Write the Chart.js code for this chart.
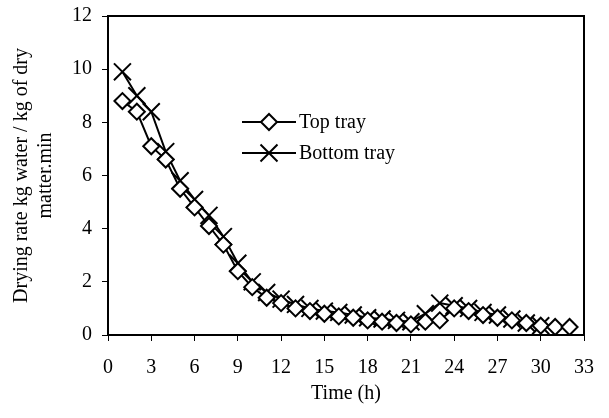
<!DOCTYPE html>
<html>
<head>
<meta charset="utf-8">
<script src="https://cdn.jsdelivr.net/npm/chart.js@4"></script>
<style>
  html, body { margin: 0; padding: 0; background: white; }
  #wrap { width: 609px; height: 418px; }
</style>
</head>
<body>
<div id="wrap"><canvas id="chart" width="609" height="418"></canvas></div>
<script>
const hours = [1, 2, 3, 4, 5, 6, 7, 8, 9, 10, 11, 12, 13, 14, 15, 16, 17, 18, 19, 20, 21, 22, 23, 24, 25, 26, 27, 28, 29, 30, 31, 32];
const topTray = [8.8, 8.4, 7.1, 6.6, 5.5, 4.8, 4.1, 3.4, 2.4, 1.8, 1.4, 1.2, 1.0, 0.9, 0.8, 0.7, 0.65, 0.55, 0.5, 0.45, 0.4, 0.5, 0.55, 1.0, 0.9, 0.75, 0.65, 0.55, 0.45, 0.35, 0.3, 0.3];
const bottomTray = [9.9, 9.0, 8.4, 6.9, 5.8, 5.1, 4.5, 3.7, 2.7, 2.0, 1.6, 1.35, 1.15, 1.0, 0.9, 0.85, 0.75, 0.65, 0.6, 0.55, 0.5, 0.8, 1.2, 1.1, 1.0, 0.85, 0.75, 0.6, 0.45, 0.35];
const seriesNames = ["Top tray", "Bottom tray"];
const xTitle = "Time (h)";
const yTitle = ["Drying rate kg water / kg of dry", "matter.min"];

const serif = "'Liberation Serif', 'Times New Roman', serif";

const toPoints = (vals) => vals.map((v, i) => ({ x: hours[i], y: v }));

// box around plot + legend inside the plot area
const boxAndLegend = {
  id: "boxAndLegend",
  afterDraw(chart) {
    const { ctx, chartArea: a } = chart;
    ctx.save();
    ctx.strokeStyle = "black";
    ctx.lineWidth = 2;
    ctx.strokeRect(a.left, a.top, a.right - a.left, a.bottom - a.top);

    const items = [
      { y: 122, style: "rectRot", r: 8 },
      { y: 153, style: "crossRot", r: 12 }
    ];
    const lx0 = 242, lx1 = 296;
    items.forEach((it, i) => {
      ctx.beginPath();
      ctx.moveTo(lx0, it.y);
      ctx.lineTo(lx1, it.y);
      ctx.lineWidth = 2;
      ctx.strokeStyle = "black";
      ctx.stroke();
      ctx.fillStyle = "white";
      Chart.helpers.drawPoint(ctx, { pointStyle: it.style, radius: it.r, borderWidth: 2, rotation: 0 }, (lx0 + lx1) / 2, it.y);
      ctx.fillStyle = "black";
      ctx.font = "20px " + serif;
      ctx.textBaseline = "middle";
      ctx.textAlign = "left";
      ctx.fillText(seriesNames[i], lx1 + 3, it.y + 1);
    });
    ctx.restore();
  }
};

new Chart(document.getElementById("chart"), {
  type: "line",
  data: {
    datasets: [
      {
        label: seriesNames[0],
        data: toPoints(topTray),
        borderColor: "black",
        borderWidth: 2,
        pointStyle: "rectRot",
        pointRadius: 8,
        pointBorderWidth: 2,
        pointBackgroundColor: "white",
        pointBorderColor: "black",
        tension: 0
      },
      {
        label: seriesNames[1],
        data: toPoints(bottomTray),
        borderColor: "black",
        borderWidth: 2,
        pointStyle: "crossRot",
        pointRadius: 12,
        pointBorderWidth: 2,
        pointBorderColor: "black",
        tension: 0
      }
    ]
  },
  options: {
    responsive: false,
    animation: false,
    layout: { padding: { top: 16, right: 21, left: 0, bottom: 0 } },
    plugins: {
      legend: { display: false },
      tooltip: { enabled: false }
    },
    scales: {
      x: {
        type: "linear",
        min: 0,
        max: 33,
        afterFit: (s) => { s.height = 83; },
        ticks: { stepSize: 3, color: "black", font: { family: serif, size: 20 }, padding: 15, maxRotation: 0 },
        grid: { drawOnChartArea: false, drawTicks: true, tickLength: 6, color: "black", lineWidth: 1 },
        border: { color: "black", width: 2 },
        title: { display: true, text: xTitle, color: "black", font: { family: serif, size: 20 }, padding: { top: 4, bottom: 12 } }
      },
      y: {
        min: 0,
        max: 12,
        afterFit: (s) => { s.width = 108; },
        ticks: { stepSize: 2, color: "black", font: { family: serif, size: 20, lineHeight: 0.5 }, padding: 10 },
        grid: { drawOnChartArea: false, drawTicks: true, tickLength: 6, color: "black", lineWidth: 1 },
        border: { color: "black", width: 2 },
        title: { display: true, text: yTitle, color: "black", font: { family: serif, size: 20 }, padding: { top: 10, bottom: 4 } }
      }
    }
  },
  plugins: [boxAndLegend]
});
</script>
</body>
</html>
